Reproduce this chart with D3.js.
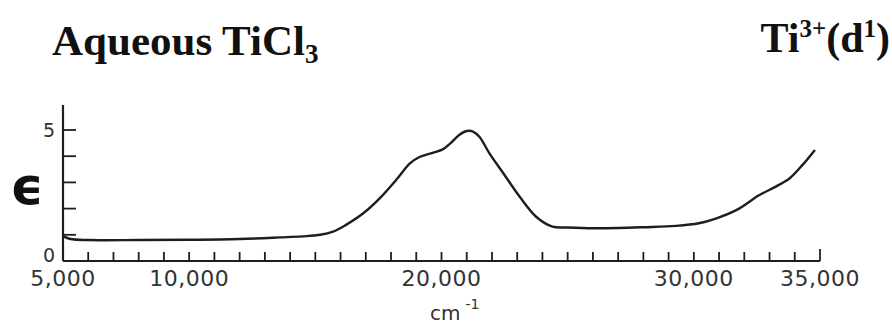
<!DOCTYPE html>
<html>
<head>
<meta charset="utf-8" />
<title>Aqueous TiCl3</title>
<script src="https://d3js.org/d3.v7.min.js"></script>
<style>
  body { margin: 0; background: #fff; }
</style>
</head>
<body>
<div id="chart"></div>
<script>
// spectrum (wavenumber in cm-1, epsilon)
const wavenumber = [5000, 5300, 6000, 8000, 10000, 12000, 13600, 14500, 15200, 15700,
  16200, 16900, 17550, 18200, 18750, 19150, 19650, 20050, 20350, 20700,
  21000, 21250, 21500, 21900, 22450, 23100, 23750, 24400, 25000, 26000,
  27000, 28000, 29300, 30200, 30900, 31700, 32600, 33250, 33800, 34300, 34800];
const epsilon = [0.95, 0.84, 0.80, 0.80, 0.81, 0.84, 0.90, 0.94, 1.00, 1.12,
  1.37, 1.82, 2.39, 3.09, 3.73, 3.98, 4.13, 4.26, 4.49, 4.81,
  4.96, 4.94, 4.74, 4.11, 3.35, 2.45, 1.69, 1.31, 1.28, 1.25,
  1.26, 1.29, 1.34, 1.44, 1.63, 1.95, 2.52, 2.84, 3.16, 3.66, 4.24];

// axis ticks and labels
const xTicks = d3.range(6000, 35001, 1000);
const xLabels = [5000, 10000, 20000, 30000, 35000];
const yTicks = [1, 2, 3, 4, 5];
const yLabels = [0, 5];

const width = 892;
const height = 325;

const svg = d3.select('#chart')
  .append('svg')
  .attr('width', width)
  .attr('height', height);

const x = d3.scaleLinear().domain([5000, 35000]).range([63, 820]);
const y = d3.scaleLinear().domain([0, 5]).range([261, 130]);

const ink = '#1e1e1e';

// titles
const title = svg.append('text')
  .attr('x', 52)
  .attr('y', 55)
  .style('font-family', '"Liberation Serif", "Times New Roman", serif')
  .style('font-weight', 'bold')
  .style('font-size', '43px')
  .attr('fill', '#111');
title.append('tspan').text('Aqueous TiCl');
title.append('tspan').attr('dy', 8).style('font-size', '27px').text('3');

const ion = svg.append('text')
  .attr('x', 890)
  .attr('y', 52)
  .attr('text-anchor', 'end')
  .style('font-family', '"Liberation Serif", "Times New Roman", serif')
  .style('font-weight', 'bold')
  .style('font-size', '42px')
  .attr('fill', '#111');
ion.append('tspan').text('Ti');
ion.append('tspan').attr('dy', -15).style('font-size', '25px').text('3+');
ion.append('tspan').attr('dy', 15).text('(d');
ion.append('tspan').attr('dy', -15).style('font-size', '25px').text('1');
ion.append('tspan').attr('dy', 15).text(')');

// axes lines
svg.append('line')
  .attr('x1', x(5000)).attr('x2', x(5000))
  .attr('y1', y(0)).attr('y2', 105)
  .attr('stroke', ink).attr('stroke-width', 2.2);

svg.append('line')
  .attr('x1', x(5000)).attr('x2', x(35000))
  .attr('y1', y(0)).attr('y2', y(0))
  .attr('stroke', ink).attr('stroke-width', 2.2);

svg.selectAll('.xtick')
  .data(xTicks)
  .enter()
  .append('line')
  .attr('class', 'xtick')
  .attr('x1', d => x(d)).attr('x2', d => x(d))
  .attr('y1', y(0)).attr('y2', d => y(0) - (d === 35000 ? 12 : 9))
  .attr('stroke', ink).attr('stroke-width', 1.8);

svg.selectAll('.ytick')
  .data(yTicks)
  .enter()
  .append('line')
  .attr('class', 'ytick')
  .attr('x1', x(5000)).attr('x2', x(5000) + 13)
  .attr('y1', d => y(d)).attr('y2', d => y(d))
  .attr('stroke', ink).attr('stroke-width', 1.8);

const fmt = d3.format(',');

svg.selectAll('.xlabel')
  .data(xLabels)
  .enter()
  .append('text')
  .attr('class', 'xlabel')
  .attr('x', d => x(d))
  .attr('y', 286)
  .attr('text-anchor', 'middle')
  .style('font-family', '"DejaVu Sans", sans-serif')
  .style('font-size', '22px')
  .style('letter-spacing', '0.5px')
  .attr('fill', '#333')
  .text(d => fmt(d));

svg.selectAll('.ylabel')
  .data(yLabels)
  .enter()
  .append('text')
  .attr('class', 'ylabel')
  .attr('x', 55)
  .attr('y', d => y(d) + 7 - (d === 0 ? 6 : 0))
  .attr('text-anchor', 'end')
  .style('font-family', '"DejaVu Sans", sans-serif')
  .style('font-size', '19px')
  .attr('fill', '#333')
  .text(d => d);

// axis titles
svg.append('text')
  .attr('x', 27)
  .attr('y', 204)
  .attr('text-anchor', 'middle')
  .style('font-family', '"DejaVu Sans", sans-serif')
  .style('font-weight', 'bold')
  .style('font-size', '52px')
  .attr('fill', '#111')
  .text('ϵ');

const unit = svg.append('text')
  .attr('x', 430)
  .attr('y', 320)
  .style('font-family', '"DejaVu Sans", sans-serif')
  .style('font-size', '20px')
  .attr('fill', '#333');
unit.append('tspan').text('cm');
unit.append('tspan').attr('dx', 5).attr('dy', -11).style('font-size', '14px').text('-1');

// spectrum curve
const points = wavenumber.map((w, i) => [w, epsilon[i]]);

const line = d3.line()
  .x(d => x(d[0]))
  .y(d => y(d[1]))
  .curve(d3.curveCatmullRom);

svg.append('path')
  .datum(points)
  .attr('d', line)
  .attr('fill', 'none')
  .attr('stroke', ink)
  .attr('stroke-width', 2.4)
  .attr('stroke-linejoin', 'round');
</script>
</body>
</html>
